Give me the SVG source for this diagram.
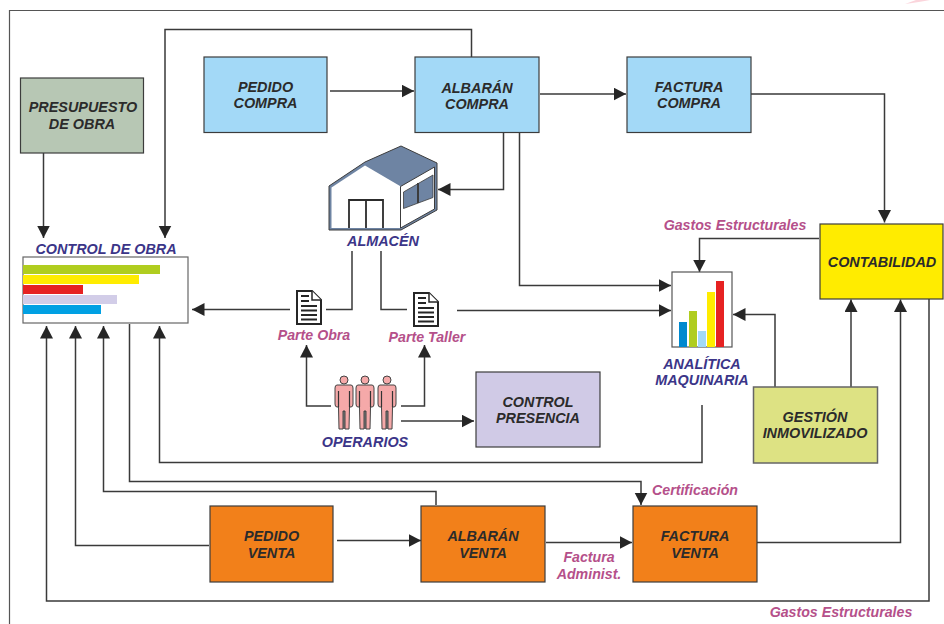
<svg xmlns="http://www.w3.org/2000/svg" width="944" height="624" viewBox="0 0 944 624">
<style>
text{font-family:"Liberation Sans",Arial,sans-serif;font-weight:bold;font-style:italic;text-anchor:middle}
.n{font-size:14.400px;fill:#2b2b2b}
.p{font-size:14.400px;fill:#3b3588}
.m{font-size:14.200px;fill:#b5508a}
.box{stroke:#3c3c3c;stroke-width:1.200}
.blue{fill:#a3d9f7}.orange{fill:#f2801a}
.c path{fill:none;stroke:#3a3a3a;stroke-width:1.500}
</style>
<defs>
<marker id="a" markerUnits="userSpaceOnUse" markerWidth="13" markerHeight="14" refX="12.500" refY="6.500" orient="auto"><path d="M0 0L12.500 6.500L0 13Z" fill="#262626"/></marker>
<symbol id="doc" width="26" height="36" viewBox="0 0 26 36" overflow="visible">
<path d="M1 1H16L25 10V34H1Z" fill="#fff" stroke="#262626" stroke-width="2"/>
<path d="M16 1V10H25" fill="#fff" stroke="#262626" stroke-width="1.500"/>
<path d="M5 6H13M5 11H13M5 16H21M5 20.500H21M5 25H21M5 29.500H21" stroke="#262626" stroke-width="1.800" fill="none"/>
</symbol>
<symbol id="man" width="20" height="56" viewBox="0 0 20 56" overflow="visible">
<circle cx="10" cy="5" r="4" fill="#f5a9a9" stroke="#444" stroke-width="1"/>
<path d="M3 10H17Q19 10 19 13V29Q19 32 17 32H15.500L15 54H11V36H9V54H5L4.500 32H3Q1 32 1 29V13Q1 10 3 10Z" fill="#f5a9a9" stroke="#444" stroke-width="1"/>
<path d="M4.500 16V32M15.500 16V32M10 36V54" stroke="#333" stroke-width="1.200" fill="none"/>
</symbol>
</defs>
<rect width="944" height="624" fill="#fff"/>
<path d="M905 4Q920 2 930 0H916Z" fill="#fbd5dc"/>
<path d="M9.500 624V10.500H944" fill="none" stroke="#555" stroke-width="1.200"/>
<g class="c" id="connectors">
<path d="M471.500 57V29.500H165V238" marker-end="url(#a)"/>
<path d="M43.500 153V238" marker-end="url(#a)"/>
<path d="M330 91H414" marker-end="url(#a)"/>
<path d="M540 94H626" marker-end="url(#a)"/>
<path d="M751 94H884.500V222.500" marker-end="url(#a)"/>
<path d="M503.500 133V189.500H438" marker-end="url(#a)"/>
<path d="M519.500 133V285.500H671" marker-end="url(#a)"/>
<path d="M457 310.500H671" marker-end="url(#a)"/>
<path d="M352 251V309.500H326"/>
<path d="M381 251V309.500H407"/>
<path d="M290 309.500H192" marker-end="url(#a)"/>
<path d="M331 406H306.500V345" marker-end="url(#a)"/>
<path d="M401 406H424.500V345" marker-end="url(#a)"/>
<path d="M401 421H474" marker-end="url(#a)"/>
<path d="M702 405V462.500H159.500V326" marker-end="url(#a)"/>
<path d="M819 238.500H699.500V272" marker-end="url(#a)"/>
<path d="M775 387V314.500H733" marker-end="url(#a)"/>
<path d="M851 387V299.500" marker-end="url(#a)"/>
<path d="M929 299V601H46.500V326" marker-end="url(#a)"/>
<path d="M757 542.500H900.500V299.500" marker-end="url(#a)"/>
<path d="M129.500 324V481.500H641V505" marker-end="url(#a)"/>
<path d="M436 505V491.500H103.500V326" marker-end="url(#a)"/>
<path d="M209 545.500H75.500V326" marker-end="url(#a)"/>
<path d="M337 540.500H421" marker-end="url(#a)"/>
<path d="M546 542.500H632" marker-end="url(#a)"/>
</g>
<g id="presupuesto"><rect class="box" x="20.500" y="78" width="123" height="75" fill="#b7c7b4"/><text class="n" x="83" y="112">PRESUPUESTO</text><text class="n" x="82" y="129">DE OBRA</text></g>
<g id="pedido-compra"><rect class="box blue" x="204" y="57" width="123" height="75.500"/><text class="n" x="265.500" y="92">PEDIDO</text><text class="n" x="265.500" y="108">COMPRA</text></g>
<g id="albaran-compra"><rect class="box blue" x="415" y="57" width="124" height="75.500"/><text class="n" x="477" y="93">ALBARÁN</text><text class="n" x="477" y="109">COMPRA</text></g>
<g id="factura-compra"><rect class="box blue" x="627" y="57" width="124" height="75.500"/><text class="n" x="689" y="92">FACTURA</text><text class="n" x="689" y="108">COMPRA</text></g>
<g id="almacen">
<path d="M329 186L365 162L401 146L437 163V210L401 230H329Z" fill="#6e84a3" stroke="#3c3c3c" stroke-width="1"/>
<path d="M331.500 187.500L365 165.500L400 186V228H331.500Z" fill="#fff"/>
<path d="M400.500 186.500L434.500 167V209L400.500 228Z" fill="#fff" stroke="#3c3c3c" stroke-width="1"/>
<path d="M403.500 192L433 175V197.500L403.500 208.500Z" fill="#6e84a3" stroke="#3c3c3c" stroke-width=".8"/>
<path d="M418 183V203" stroke="#3c3c3c" stroke-width="2"/>
<path d="M349 228V200H383V228M366 200V228" fill="none" stroke="#2c2c2c" stroke-width="1.800"/>
<text class="p" x="383" y="246">ALMACÉN</text>
</g>
<g id="control-obra"><text class="p" x="106" y="254">CONTROL DE OBRA</text><rect x="23" y="257" width="165" height="66" fill="#fff" stroke="#666" stroke-width="1.200"/>
<rect x="23" y="265" width="137" height="9" fill="#b0cd1f"/><rect x="23" y="275" width="116" height="9" fill="#ffec00"/><rect x="23" y="285" width="60" height="9" fill="#e62222"/><rect x="23" y="295" width="94" height="9" fill="#d2cde8"/><rect x="23" y="305" width="78" height="9" fill="#00a0e3"/></g>
<g id="parte-obra"><use href="#doc" x="296" y="290"/><text class="m" x="314" y="340">Parte Obra</text></g>
<g id="parte-taller"><use href="#doc" x="413" y="292"/><text class="m" x="427" y="342">Parte Taller</text></g>
<g id="operarios"><use href="#man" x="334" y="375"/><use href="#man" x="355" y="375"/><use href="#man" x="377" y="375"/><text class="p" x="365" y="447">OPERARIOS</text></g>
<g id="control-presencia"><rect class="box" x="476" y="372" width="124" height="75" fill="#d0cae6"/><text class="n" x="538" y="407">CONTROL</text><text class="n" x="538" y="423">PRESENCIA</text></g>
<g id="analitica"><rect x="672" y="272" width="60" height="75" fill="#fff" stroke="#555" stroke-width="1.200"/>
<rect x="679" y="322" width="8" height="25" fill="#0089cf"/><rect x="689" y="311" width="8" height="36" fill="#b0cd1f"/><rect x="698" y="331" width="8" height="16" fill="#a3d9f7"/><rect x="707" y="292" width="8" height="55" fill="#ffec00"/><rect x="716" y="281" width="8" height="66" fill="#e62222"/>
<text class="p" x="702" y="369">ANALÍTICA</text><text class="p" x="702" y="385">MAQUINARIA</text></g>
<g id="contabilidad"><rect class="box" x="820" y="224" width="123" height="75" fill="#ffec00"/><text class="n" x="882" y="267">CONTABILIDAD</text></g>
<g id="gestion"><rect x="753.500" y="387" width="124" height="76" fill="#dde283" stroke="#666" stroke-width="1.500"/><text class="n" x="815" y="422">GESTIÓN</text><text class="n" x="815" y="438">INMOVILIZADO</text></g>
<g id="pedido-venta"><rect class="box orange" x="210" y="506" width="123" height="76"/><text class="n" x="271.500" y="541">PEDIDO</text><text class="n" x="271.500" y="558">VENTA</text></g>
<g id="albaran-venta"><rect class="box orange" x="421" y="506" width="124" height="76"/><text class="n" x="483" y="541">ALBARÁN</text><text class="n" x="483" y="558">VENTA</text></g>
<g id="factura-venta"><rect class="box orange" x="633" y="506" width="124" height="76"/><text class="n" x="695" y="541">FACTURA</text><text class="n" x="695" y="558">VENTA</text></g>
<g id="labels">
<text class="m" x="735" y="230">Gastos Estructurales</text>
<text class="m" x="695" y="495">Certificación</text>
<text class="m" x="589" y="562">Factura</text><text class="m" x="589" y="579">Administ.</text>
<text class="m" x="841" y="617">Gastos Estructurales</text>
</g>
</svg>
